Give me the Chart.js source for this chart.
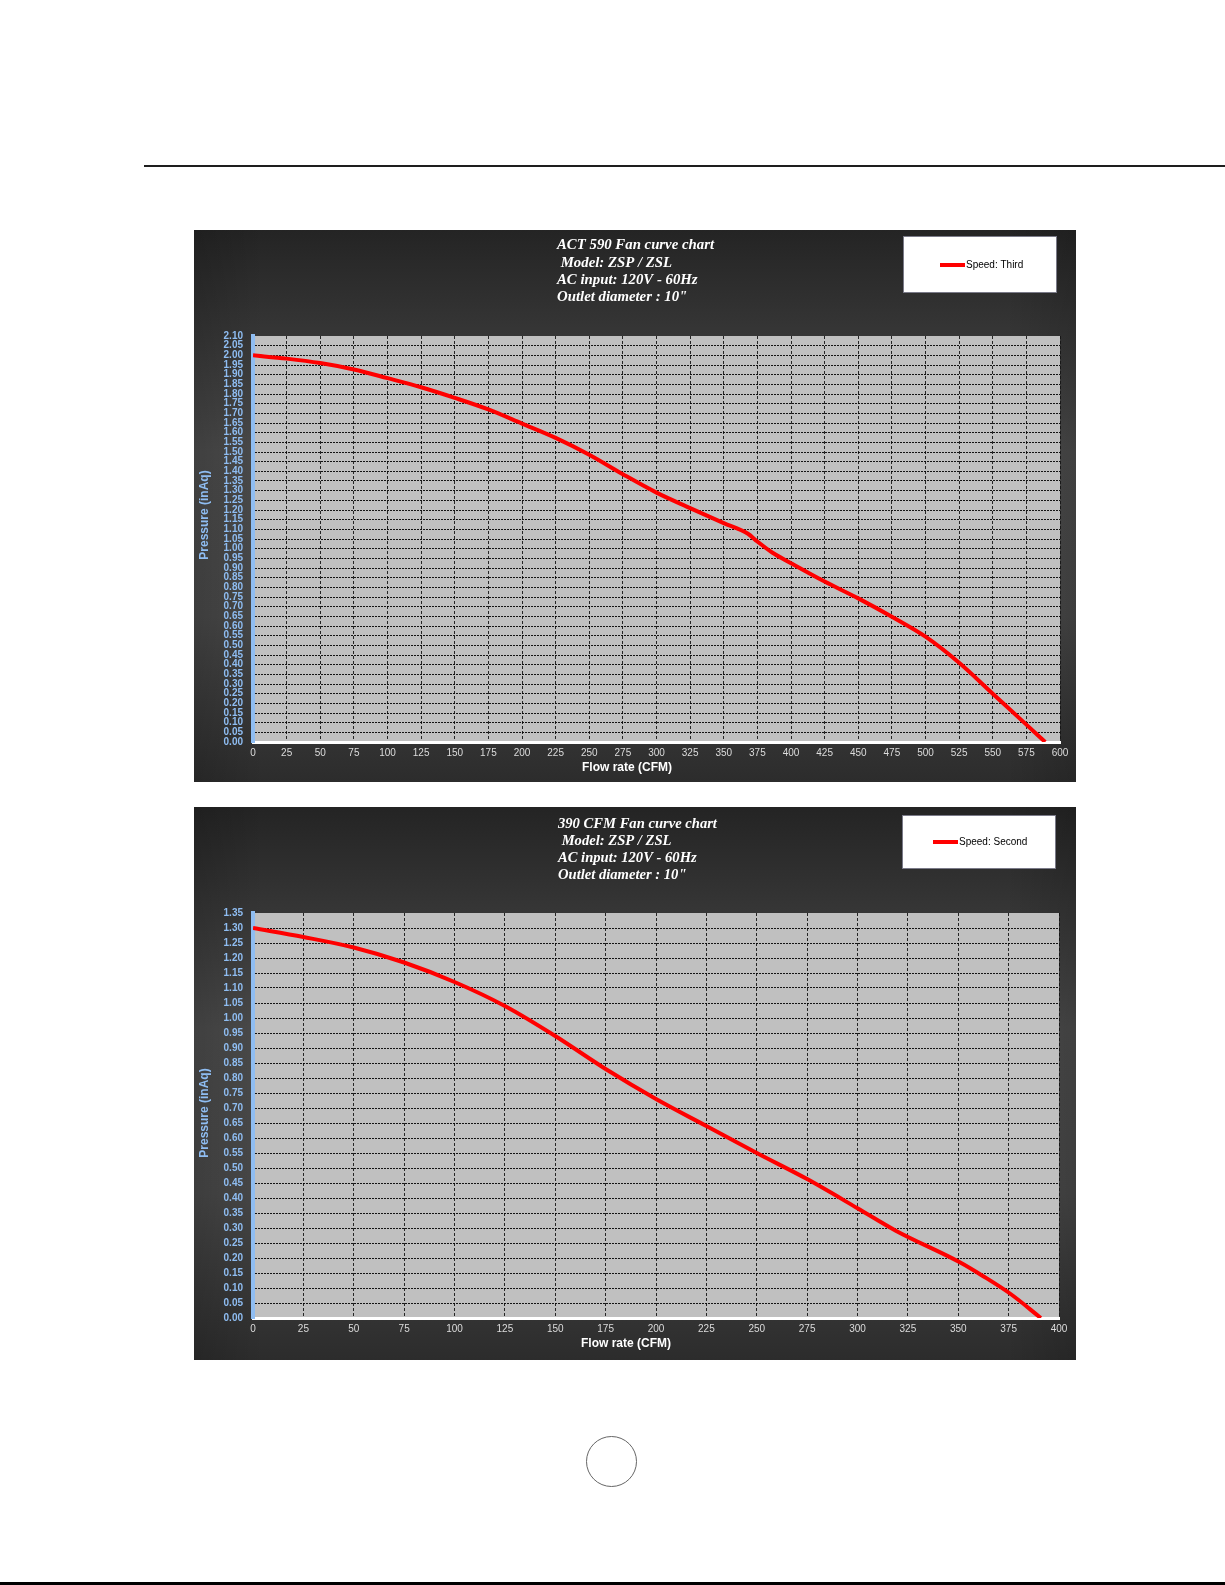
<!DOCTYPE html>
<html><head><meta charset="utf-8">
<script src="https://cdn.jsdelivr.net/npm/chart.js@4.4.1/dist/chart.umd.min.js"></script>
<style>
html,body{margin:0;padding:0;background:#fff;}
body{width:1225px;height:1585px;position:relative;overflow:hidden;}
#topline{position:absolute;left:144px;top:165px;width:1081px;height:2px;background:#1e1e1e;}
#botline{position:absolute;left:0;top:1582px;width:1225px;height:3px;background:#000;}
#pagecircle{position:absolute;left:586px;top:1436px;width:51px;height:51px;border:1px solid #666;border-radius:50%;box-sizing:border-box;}
.panel{position:absolute;left:194px;}
</style></head><body>
<div id="topline"></div>
<canvas id="c1" class="panel" style="top:230px" width="882" height="552"></canvas>
<canvas id="c2" class="panel" style="top:807px" width="882" height="553"></canvas>
<div id="pagecircle"></div>
<div id="botline"></div>
<script>
// ---- data ----
const flow1 = [0, 25, 50, 75, 100, 125, 150, 175, 200, 225, 250, 275, 300, 325, 350, 368, 375, 386, 400, 425, 450, 475, 500, 525, 550, 575, 589];
const pressure1 = [2.00, 1.983, 1.96, 1.927, 1.882, 1.835, 1.78, 1.72, 1.647, 1.573, 1.486, 1.385, 1.29, 1.21, 1.132, 1.077, 1.037, 0.98, 0.925, 0.83, 0.743, 0.648, 0.545, 0.41, 0.25, 0.09, 0.0];
const flow2 = [0, 25, 50, 75, 100, 125, 150, 175, 200, 225, 250, 275, 300, 319, 351, 362, 376, 391];
const pressure2 = [1.30, 1.27, 1.235, 1.185, 1.12, 1.04, 0.94, 0.83, 0.73, 0.64, 0.55, 0.463, 0.366, 0.291, 0.185, 0.141, 0.08, 0.0];
const title1 = ['ACT 590 Fan curve chart', ' Model: ZSP / ZSL', 'AC input: 120V - 60Hz', 'Outlet diameter : 10"'];
const title2 = ['390 CFM Fan curve chart', ' Model: ZSP / ZSL', 'AC input: 120V - 60Hz', 'Outlet diameter : 10"'];
const series1 = 'Speed: Third';
const series2 = 'Speed: Second';
const xTitle = 'Flow rate (CFM)';
const yTitle = 'Pressure (inAq)';
const xRange1 = [0, 600], xStep = 25;
const yRange1 = [0, 2.10], yRange2 = [0, 1.35], yStep = 0.05;
const xRange2 = [0, 400];

const BLUE = '#8fbdf2';

const panelPlugin = {
  id: 'panel',
  beforeDraw(chart, args, o) {
    const {ctx, width, height, chartArea: a} = chart;
    ctx.save();
    const g = ctx.createLinearGradient(0, 0, 0, height);
    g.addColorStop(0, '#242424');
    g.addColorStop(0.4, '#4a4a4a');
    g.addColorStop(0.7, '#474747');
    g.addColorStop(1, '#2c2c2c');
    ctx.fillStyle = g;
    ctx.fillRect(0, 0, width, height);
    const h = ctx.createLinearGradient(0, 0, width, 0);
    h.addColorStop(0, 'rgba(0,0,0,0.14)');
    h.addColorStop(0.08, 'rgba(0,0,0,0)');
    h.addColorStop(0.92, 'rgba(0,0,0,0)');
    h.addColorStop(1, 'rgba(0,0,0,0.14)');
    ctx.fillStyle = h;
    ctx.fillRect(0, 0, width, height);
    ctx.fillStyle = '#c0c0c0';
    ctx.fillRect(a.left, a.top, a.right - a.left, a.bottom - a.top);
    ctx.restore();
  },
  afterDraw(chart, args, o) {
    const ctx = chart.ctx;
    ctx.save();
    // title
    ctx.fillStyle = '#ffffff';
    ctx.font = 'italic bold ' + o.tsize + 'px "Liberation Serif", "Times New Roman", serif';
    ctx.textAlign = 'left';
    ctx.textBaseline = 'middle';
    o.lines.forEach((t, i) => ctx.fillText(t, o.tx, o.ty + i * o.gap));
    // legend
    const L = o.legend;
    ctx.fillStyle = '#ffffff';
    ctx.fillRect(L.x, L.y, L.w, L.h);
    ctx.strokeStyle = '#7a7a88';
    ctx.lineWidth = 1;
    ctx.strokeRect(L.x + 0.5, L.y + 0.5, L.w - 1, L.h - 1);
    const ds = chart.data.datasets[0];
    ctx.strokeStyle = ds.borderColor;
    ctx.lineWidth = 4;
    ctx.beginPath();
    ctx.moveTo(L.sx, L.sy);
    ctx.lineTo(L.sx + 25, L.sy);
    ctx.stroke();
    ctx.fillStyle = '#000';
    ctx.font = '10px "Liberation Sans", Arial, sans-serif';
    ctx.fillText(ds.label, L.sx + 26, L.sy + 0.5);
    // axis titles
    ctx.font = 'bold 12px "Liberation Sans", Arial, sans-serif';
    ctx.fillStyle = '#ffffff';
    ctx.textAlign = 'center';
    ctx.fillText(xTitle, o.xt[0], o.xt[1]);
    ctx.translate(o.yt[0], o.yt[1]);
    ctx.rotate(-Math.PI / 2);
    ctx.fillStyle = BLUE;
    ctx.fillText(yTitle, 0, 0);
    ctx.restore();
  }
};

function makeChart(id, flow, pres, label, xr, yr, panelOpts, pad, xh) {
  const pts = flow.map((f, i) => ({x: f, y: pres[i]}));
  return new Chart(document.getElementById(id), {
    type: 'line',
    data: {datasets: [{label: label, data: pts, borderColor: '#ff0000', borderWidth: 4,
      pointRadius: 0, cubicInterpolationMode: 'monotone', fill: false}]},
    options: {
      responsive: false, animation: false, devicePixelRatio: 1,
      layout: {padding: pad},
      plugins: {legend: {display: false}, title: {display: false}, tooltip: {enabled: false}, panel: panelOpts},
      scales: {
        x: {type: 'linear', min: xr[0], max: xr[1],
          afterFit: s => { s.height = xh; },
          ticks: {stepSize: xStep, autoSkip: false, maxRotation: 0, color: '#dcdcdc', padding: 5,
            font: {family: 'Liberation Sans', size: 10}},
          grid: {drawTicks: false, color: 'rgba(20,20,20,0.9)', lineWidth: 1},
          border: {color: '#ffffff', width: 3, dash: [3, 2]}
        },
        y: {type: 'linear', min: yr[0], max: yr[1],
          afterFit: s => { s.width = pad.yw; },
          ticks: {stepSize: yStep, autoSkip: false, color: BLUE, padding: 10,
            font: {family: 'Liberation Sans', size: 10, weight: 'bold'},
            callback: v => Number(v).toFixed(2)},
          grid: {drawTicks: false, lineWidth: 1,
            color: c => (c.tick && Math.abs(c.tick.value - yr[1]) < 1e-6) ? 'rgba(0,0,0,0)' : 'rgba(0,0,0,0.9)'},
          border: {color: BLUE, width: 4, dash: [2, 1]}
        }
      }
    },
    plugins: [panelPlugin]
  });
}

Chart.defaults.font.family = 'Liberation Sans';

makeChart('c1', flow1, pressure1, series1, xRange1, yRange1,
  {lines: title1, tx: 363, ty: 15.6, gap: 17.2, tsize: 14.8,
   legend: {x: 709, y: 6, w: 154, h: 57, sx: 746, sy: 35},
   xt: [433, 538], yt: [11, 285]},
  {top: 106, right: 16, left: 0, bottom: 0, yw: 59}, 40);

makeChart('c2', flow2, pressure2, series2, xRange2, yRange2,
  {lines: title2, tx: 364, ty: 17, gap: 17.2, tsize: 14.6,
   legend: {x: 708, y: 8, w: 154, h: 54, sx: 739, sy: 35},
   xt: [432, 537], yt: [11, 306]},
  {top: 106, right: 17, left: 0, bottom: 0, yw: 59}, 42);
</script>
</body></html>
